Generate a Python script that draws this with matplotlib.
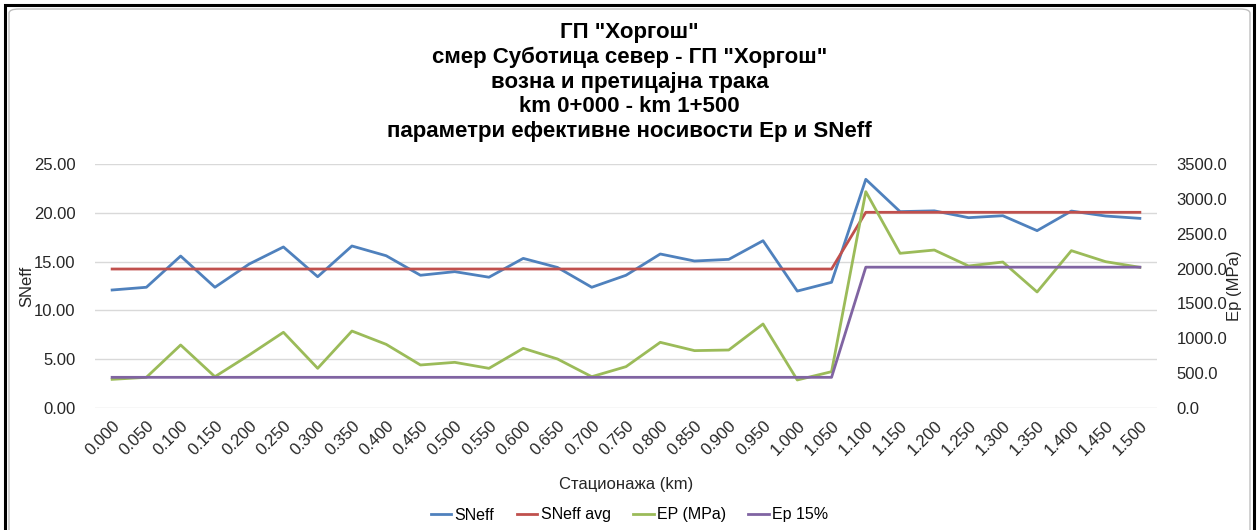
import matplotlib
matplotlib.use("Agg")
import matplotlib.pyplot as plt
from matplotlib.patches import Rectangle, FancyBboxPatch
import numpy as np

plt.rcParams['font.family'] = ['Liberation Sans', 'DejaVu Sans']

stations = ["0.000", "0.050", "0.100", "0.150", "0.200", "0.250", "0.300", "0.350",
            "0.400", "0.450", "0.500", "0.550", "0.600", "0.650", "0.700", "0.750",
            "0.800", "0.850", "0.900", "0.950", "1.000", "1.050", "1.100", "1.150",
            "1.200", "1.250", "1.300", "1.350", "1.400", "1.450", "1.500"]

sneff = [12.09, 12.37, 15.57, 12.37, 14.75, 16.5, 13.45, 16.6, 15.6, 13.6,
         13.97, 13.4, 15.33, 14.4, 12.37, 13.6, 15.78, 15.06, 15.23, 17.14,
         11.98, 12.88, 23.43, 20.12, 20.2, 19.5, 19.7, 18.17, 20.18, 19.67, 19.43]

sneff_avg = [14.24] * 22 + [20.05] * 9

ep = [411, 440, 904, 449, 760, 1086, 569, 1104, 913, 617,
      655, 569, 856, 703, 449, 593, 942, 823, 832, 1205,
      402, 521, 3103, 2219, 2266, 2037, 2094, 1664, 2257, 2099, 2018]

ep15 = [440] * 22 + [2020] * 9

title = ('ГП "Хоргош"\nсмер Суботица север - ГП "Хоргош"\nвозна и претицајна трака\n'
         'km 0+000 - km 1+500\nпараметри ефективне носивости Ep и SNeff')

c_blue = '#4F81BD'
c_red = '#C0504D'
c_green = '#9BBB59'
c_purple = '#8064A2'

fig = plt.figure(figsize=(12.59, 5.30), dpi=100)
ax = fig.add_axes([95/1259, 1 - 408/530, (1157 - 95)/1259, (408 - 164)/530])
ax2 = ax.twinx()

x = np.arange(len(stations))
l1, = ax.plot(x, sneff, color=c_blue, lw=2, label='SNeff')
l2, = ax.plot(x, sneff_avg, color=c_red, lw=2, label='SNeff avg')
l3, = ax2.plot(x, ep, color=c_green, lw=2, label='EP (MPa)')
l4, = ax2.plot(x, ep15, color=c_purple, lw=2, label='Ep 15%')

ax.set_xlim(-0.5, len(stations) - 0.5)
ax.set_ylim(0, 25)
ax.set_yticks(np.arange(0, 25.01, 5))
ax.set_yticklabels([f"{v:.2f}" for v in np.arange(0, 25.01, 5)])
ax2.set_ylim(0, 3500)
ax2.set_yticks(np.arange(0, 3500.1, 500))
ax2.set_yticklabels([f"{v:.1f}" for v in np.arange(0, 3500.1, 500)])

ax.set_xticks(x)
ax.set_xticklabels(stations, rotation=45, ha='right', rotation_mode='anchor')

for a in (ax, ax2):
    for s in a.spines.values():
        s.set_visible(False)
    a.tick_params(length=0, labelsize=12, colors='#262626')
ax.tick_params(axis='x', labelsize=12, pad=7)
ax.tick_params(axis='y', pad=14)
ax2.tick_params(axis='y', pad=14)

ax.grid(axis='y', color='#D9D9D9', lw=1)
ax.set_axisbelow(True)

ax.set_ylabel('SNeff', fontsize=12, color='#262626', va='center')
ax.yaxis.set_label_coords((27 - 95) / 1062, 0.5)
ax2.set_ylabel('Ep (MPa)', fontsize=12, color='#262626', va='center')
ax2.yaxis.set_label_coords((1234 - 95) / 1062, 0.5)
ax.set_xlabel('Стационажа (km)', fontsize=12, color='#262626', labelpad=14)

fig.text(0.5, 1 - 82/530, title, ha='center', va='center', fontsize=16,
         fontweight='bold', linespacing=1.22, color='#000000')

fig.legend([l1, l2, l3, l4], ['SNeff', 'SNeff avg', 'EP (MPa)', 'Ep 15%'],
           loc='center', bbox_to_anchor=(0.5, 1 - 515/530), ncol=4, frameon=False,
           fontsize=11.5, handlelength=1.3, handletextpad=0.2, columnspacing=1.4)

# inner rounded light border and outer black frame
fig.patches.append(FancyBboxPatch((9/1259, -0.05), (1250 - 9)/1259, (530 - 9)/530 + 0.05,
                                  boxstyle='round,pad=0,rounding_size=0.008',
                                  transform=fig.transFigure, fill=False,
                                  edgecolor='#BFBFBF', lw=1))
fig.patches.append(Rectangle((5/1259, -0.05), (1254 - 5)/1259, (525)/530 + 0.05,
                             transform=fig.transFigure, fill=False,
                             edgecolor='black', lw=2.2))

fig.savefig('out.png', dpi=100)
